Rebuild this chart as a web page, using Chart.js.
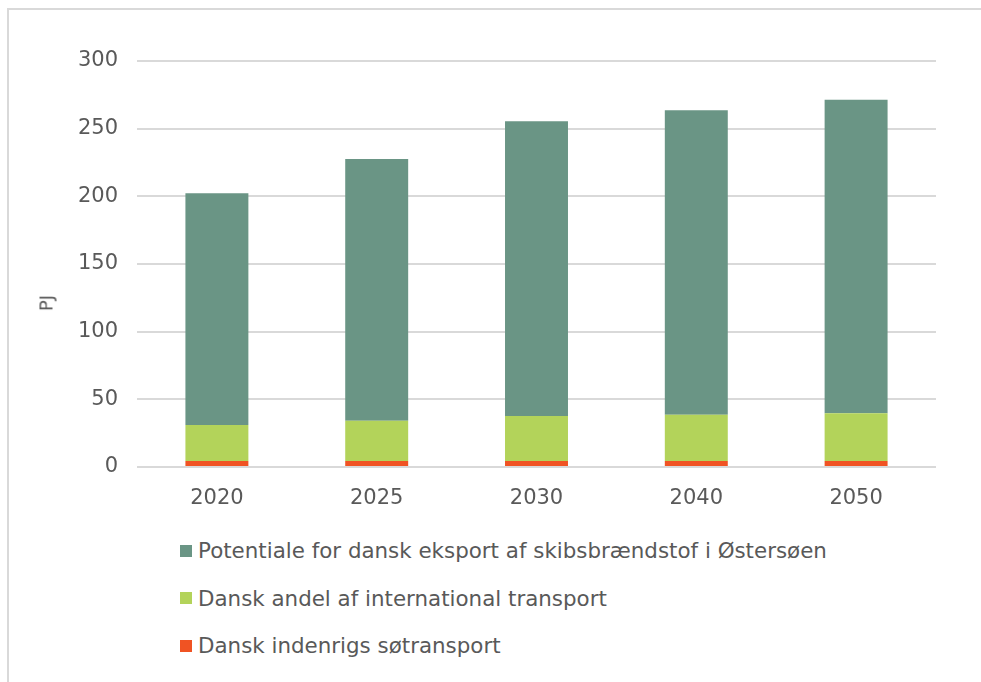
<!DOCTYPE html>
<html>
<head>
<meta charset="utf-8">
<script src="https://cdn.jsdelivr.net/npm/chart.js@4.4.1/dist/chart.umd.min.js"></script>
<style>
    html, body { margin: 0; background: #fff; overflow: hidden; font-family: "DejaVu Sans", Verdana, sans-serif; }
    #frame { position: absolute; left: 7px; top: 8px; width: 980px; height: 700px; border-left: 2px solid #d9d9d9; border-top: 2px solid #d9d9d9; box-sizing: border-box; }
    #wrap { position: absolute; left: 0; top: 0; width: 981px; height: 520px; }
    #ytitle { position: absolute; left: 46px; top: 303px; transform: translate(-50%, -50%) rotate(-90deg); font-size: 18px; color: #595959; white-space: nowrap; }
    #legend { position: absolute; left: 180px; top: 527px; }
    .item { display: flex; align-items: center; height: 47.5px; font-size: 21.4px; color: #595959; }
    .box { width: 12px; height: 12px; margin-right: 6px; }
</style>
</head>
<body>
<div id="frame"></div>
<div id="wrap"><canvas id="chart"></canvas></div>
<div id="ytitle">PJ</div>
<div id="legend"></div>
<script>
const years = ['2020', '2025', '2030', '2040', '2050'];
const seriesNames = [
    'Dansk indenrigs søtransport',
    'Dansk andel af international transport',
    'Potentiale for dansk eksport af skibsbrændstof i Østersøen'
];
const indenrigs = [4.5, 4.5, 4.5, 4.5, 4.5];
const international = [26.5, 29.7, 33.2, 34.2, 35.2];
const eksport = [171.3, 193.4, 217.7, 224.9, 231.7];
const colors = ['#F05323', '#B3D35A', '#6A9585'];
const yTicks = [0, 50, 100, 150, 200, 250, 300];

const tickFont = { family: 'DejaVu Sans', size: 21 };

document.addEventListener('DOMContentLoaded', () => {
    const chart = renderChart();
    buildLegend(chart);
});

function renderChart() {
    const ctx = document.getElementById('chart').getContext('2d');
    const values = [indenrigs, international, eksport];
    return new Chart(ctx, {
        type: 'bar',
        data: {
            labels: years,
            datasets: seriesNames.map((name, i) => ({
                label: name,
                data: values[i],
                backgroundColor: colors[i],
                categoryPercentage: 1,
                barPercentage: 0.394
            }))
        },
        options: {
            responsive: true,
            maintainAspectRatio: false,
            animation: false,
            layout: { padding: { left: 34, right: 45, top: 61, bottom: 0 } },
            plugins: { legend: { display: false }, tooltip: { enabled: false } },
            scales: {
                x: {
                    stacked: true,
                    grid: { display: false },
                    border: { display: false },
                    ticks: { color: '#595959', font: tickFont, padding: 11 },
                    afterFit: s => { s.height = 53; }
                },
                y: {
                    stacked: true,
                    min: 0,
                    max: 300,
                    afterBuildTicks: s => { s.ticks = yTicks.map(v => ({ value: v })); },
                    grid: { color: '#d9d9d9', lineWidth: 2, drawTicks: false },
                    border: { display: false },
                    ticks: { color: '#595959', font: tickFont, padding: 19 },
                    afterFit: s => { s.width = 103; }
                }
            }
        }
    });
}

// Legend, top item is the top of the stack
function buildLegend(chart) {
    const legend = document.getElementById('legend');
    chart.data.datasets.slice().reverse().forEach(ds => {
        const row = document.createElement('div');
        row.className = 'item';
        const box = document.createElement('span');
        box.className = 'box';
        box.style.background = ds.backgroundColor;
        const text = document.createElement('span');
        text.textContent = ds.label;
        row.appendChild(box);
        row.appendChild(text);
        legend.appendChild(row);
    });
}
</script>
</body>
</html>
